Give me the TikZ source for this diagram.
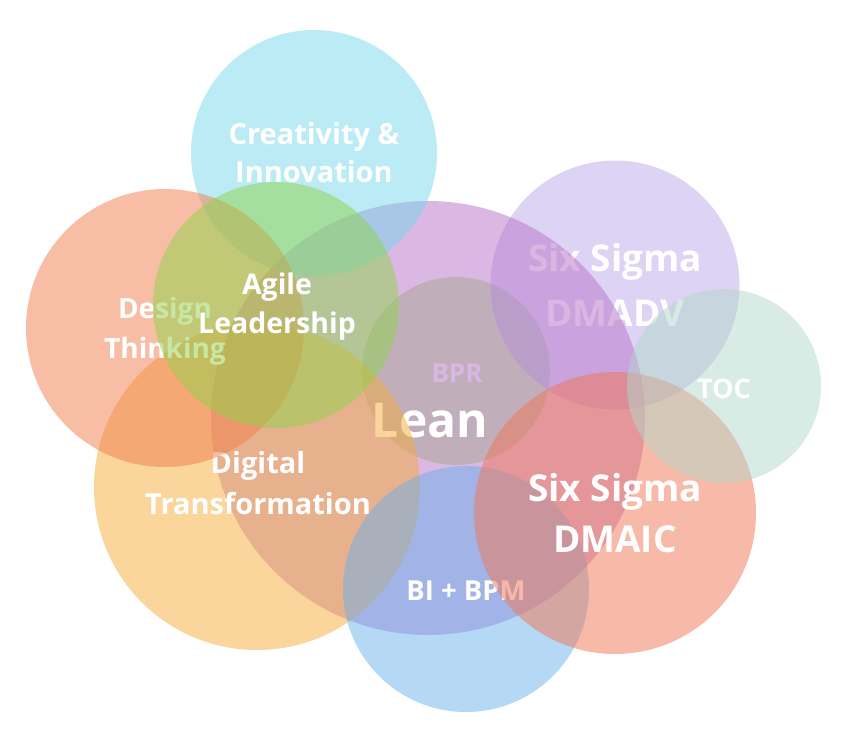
\documentclass[tikz,border=0pt]{standalone}
\usepackage{fontspec}
\setmainfont{Open Sans}
\definecolor{cBPR}{RGB}{147,223,99}
\definecolor{cDMADV}{RGB}{187,167,235}
\definecolor{cLean}{RGB}{183,113,199}
\definecolor{cCre}{RGB}{119,215,235}
\definecolor{cDT}{RGB}{245,171,57}
\definecolor{cDes}{RGB}{241,125,75}
\definecolor{cAgile}{RGB}{143,211,75}
\definecolor{cBI}{RGB}{107,177,235}
\definecolor{cDMAIC}{RGB}{241,117,81}
\definecolor{cTOC}{RGB}{179,215,203}
\newcommand{\twolines}[2]{\begin{tabular}[t]{@{}c@{}}#1\\#2\end{tabular}}
\begin{document}
\begin{tikzpicture}[x=1pt,y=-1pt,
  bub/.style={fill=#1,fill opacity=0.5,draw=none},
  lbl/.style={text=white,inner sep=0pt,anchor=base}]
\useasboundingbox (0,0) rectangle (848,742);
% BPR
\fill[bub=cBPR] (456,371) circle[radius=94pt];
\node[lbl,font=\fontsize{26}{32}\selectfont\bfseries] (bpr) at (457,382) {BPR};
% Six Sigma DMADV
\fill[bub=cDMADV] (615,285) circle[radius=124.5pt];
\node[lbl,font=\fontsize{37}{55}\selectfont\bfseries] (dmadv) at (615,271) {\twolines{Six Sigma}{DMADV}};
% Lean
\fill[bub=cLean] (428,418) circle[radius=217pt];
\node[lbl,font=\fontsize{48}{56}\selectfont\bfseries] (lean) at (430,437) {Lean};
% Creativity & Innovation
\fill[bub=cCre] (314,153) circle[radius=123pt];
\node[lbl,font=\fontsize{29}{38}\selectfont\bfseries] (cre) at (314,144) {\twolines{Creativity \&}{Innovation}};
% Digital Transformation
\fill[bub=cDT] (257,487) circle[radius=163pt];
\node[lbl,font=\fontsize{29}{41}\selectfont\bfseries] (dt) at (258,473) {\twolines{Digital}{Transformation}};
% Design Thinking
\fill[bub=cDes] (165,328) circle[radius=139pt];
\node[lbl,font=\fontsize{28}{40}\selectfont\bfseries] (des) at (165,318) {\twolines{Design}{Thinking}};
% Agile Leadership
\fill[bub=cAgile] (276,305) circle[radius=123pt];
\node[lbl,font=\fontsize{28.5}{39}\selectfont\bfseries] (agile) at (277,294) {\twolines{Agile}{Leadership}};
% BI + BPM
\fill[bub=cBI] (466,589) circle[radius=123pt];
\node[lbl,font=\fontsize{27.5}{32}\selectfont\bfseries] (bi) at (466,600) {BI + BPM};
% Six Sigma DMAIC
\fill[bub=cDMAIC] (615,513) circle[radius=141pt];
\node[lbl,font=\fontsize{37}{51}\selectfont\bfseries] (dmaic) at (615,501) {\twolines{Six Sigma}{DMAIC}};
% TOC
\fill[bub=cTOC] (724,386) circle[radius=97pt];
\node[lbl,font=\fontsize{27}{32}\selectfont\bfseries] (toc) at (724,398) {TOC};
\end{tikzpicture}
\end{document}
